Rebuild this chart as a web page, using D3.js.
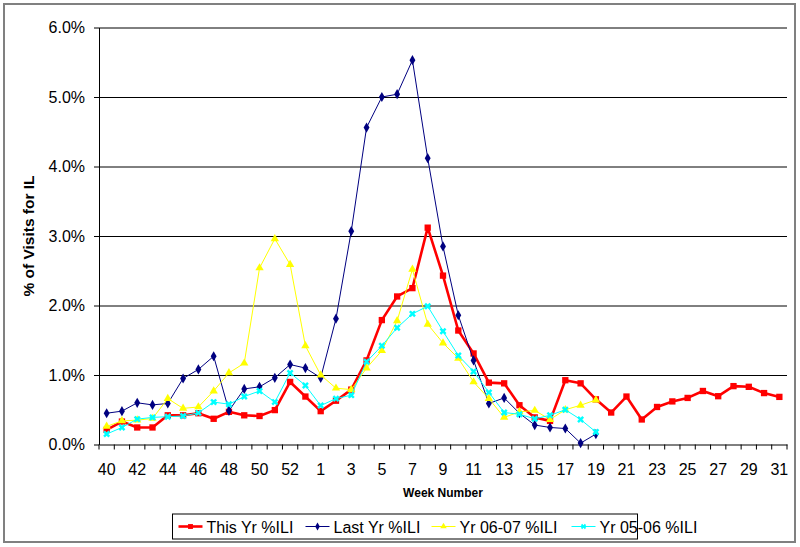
<!DOCTYPE html>
<html>
<head>
<meta charset="utf-8">
<script src="https://cdn.jsdelivr.net/npm/d3@7"></script>
<style>
  body { margin: 0; background: #fff; }
  svg { display: block; font-family: "Liberation Sans", Arial, sans-serif; }
</style>
</head>
<body>
<div id="chart"></div>
<script>
// week categories, flu season runs from week 40 through week 31 of next year
let weeks = [40,41,42,43,44,45,46,47,48,49,50,51,52,53,
             1,2,3,4,5,6,7,8,9,10,11,12,13,14,15,16,17,18,19,20,21,22,23,24,25,26,27,28,29,30,31]

// % of visits for ILI
let thisYr = [0.21,0.33,0.245,0.245,0.42,0.42,0.45,0.37,0.47,0.42,0.41,0.495,0.90,0.69,
              0.48,0.63,0.79,1.21,1.79,2.13,2.25,3.12,2.43,1.64,1.31,0.89,0.88,0.565,0.39,0.34,
              0.925,0.88,0.65,0.46,0.69,0.36,0.54,0.62,0.67,0.77,0.695,0.84,0.83,0.74,0.685]
let lastYr = [0.45,0.48,0.60,0.57,0.59,0.95,1.08,1.27,0.485,0.80,0.83,0.96,1.15,1.10,
              0.96,1.81,3.07,4.56,5.00,5.04,5.53,4.12,2.85,1.86,1.21,0.59,0.67,0.45,0.28,0.245,
              0.23,0.02,0.15]
let yr0607 = [0.26,0.34,0.35,0.375,0.66,0.52,0.54,0.77,1.03,1.17,2.54,2.96,2.59,1.42,
              1.00,0.81,0.79,1.10,1.35,1.78,2.52,1.73,1.46,1.24,0.90,0.66,0.39,0.47,0.49,0.36,
              0.50,0.565,0.64]
let yr0506 = [0.15,0.245,0.365,0.39,0.40,0.41,0.455,0.61,0.58,0.69,0.77,0.61,1.03,0.85,
              0.56,0.66,0.71,1.19,1.42,1.68,1.88,1.99,1.63,1.28,1.05,0.75,0.46,0.435,0.37,0.42,
              0.50,0.36,0.18]

let yTicks = [0,1,2,3,4,5,6]
let seriesNames = ['This Yr %ILI', 'Last Yr %ILI', 'Yr 06-07 %ILI', 'Yr 05-06 %ILI']

let width = 800, height = 547
let margin = {top: 27.5, right: 13, bottom: 102.5, left: 99}
let innerWidth = width - margin.left - margin.right
let innerHeight = height - margin.top - margin.bottom

let svg = d3.select('#chart').append('svg')
  .attr('width', width).attr('height', height)

// chart frame
svg.append('rect')
  .attr('x', 4).attr('y', 4).attr('width', 791).attr('height', 538)
  .attr('fill', '#fff').attr('stroke', '#808080').attr('stroke-width', 2)

let g = svg.append('g').attr('transform', `translate(${margin.left},${margin.top})`)

let x = d3.scaleBand().domain(d3.range(weeks.length)).range([0, innerWidth])
let y = d3.scaleLinear().domain([0, 6]).range([innerHeight, 0])
let cx = i => x(i) + x.bandwidth() / 2

// gridlines
g.append('g')
  .call(d3.axisLeft(y).tickValues(yTicks.slice(1)).tickSize(-innerWidth).tickFormat(''))
  .call(s => s.select('.domain').remove())
  .selectAll('line').attr('stroke', '#000').attr('stroke-width', 1)

// y axis (line + ticks), labels drawn separately
let yAxis = g.append('g')
  .call(d3.axisLeft(y).tickValues(yTicks).tickSize(5).tickSizeOuter(0).tickFormat(''))
yAxis.select('.domain').attr('stroke', '#000')
g.append('g').selectAll('text').data(yTicks).join('text')
  .attr('x', -14).attr('y', d => y(d)).attr('dy', '0.35em')
  .attr('text-anchor', 'end').attr('font-size', 16).attr('fill', '#000')
  .text(d => d.toFixed(1) + '%')

// x axis: ticks between categories, labels on every other week
let xAxis = g.append('g').attr('transform', `translate(0,${innerHeight})`)
  .call(d3.axisBottom(x).tickValues([]).tickSizeOuter(0))
xAxis.select('.domain').attr('stroke', '#000')
xAxis.selectAll('.bnd').data(d3.range(weeks.length + 1)).join('line')
  .attr('class', 'bnd')
  .attr('x1', i => i * x.step()).attr('x2', i => i * x.step())
  .attr('y1', 0).attr('y2', 5).attr('stroke', '#000')
g.append('g').selectAll('text').data(d3.range(0, weeks.length, 2)).join('text')
  .attr('x', i => cx(i)).attr('y', innerHeight + 30)
  .attr('text-anchor', 'middle').attr('font-size', 16).attr('fill', '#000')
  .text(i => weeks[i])

// axis titles
svg.append('text')
  .attr('x', margin.left + innerWidth / 2).attr('y', 497)
  .attr('text-anchor', 'middle').attr('font-size', 12).attr('font-weight', 'bold')
  .text('Week Number')
svg.append('text')
  .attr('transform', `translate(34,${margin.top + innerHeight / 2}) rotate(-90)`)
  .attr('text-anchor', 'middle').attr('font-size', 15.5).attr('font-weight', 'bold')
  .text('% of Visits for IL')

// series
let series = [
  {name: seriesNames[0], values: thisYr, color: '#ff0000', width: 2.6, symbol: d3.symbolSquare, size: 40, rot: 0},
  {name: seriesNames[1], values: lastYr, color: '#000080', width: 1, symbol: d3.symbolDiamond, size: 30, rot: 0},
  {name: seriesNames[2], values: yr0607, color: '#ffff00', width: 1, symbol: d3.symbolTriangle, size: 30, rot: 0},
  {name: seriesNames[3], values: yr0506, color: '#00ffff', width: 1, symbol: d3.symbolCross, size: 30, rot: 45}
]

let line = d3.line().x((d, i) => cx(i)).y(d => y(d))

series.forEach(s => {
  g.append('path').datum(s.values)
    .attr('fill', 'none').attr('stroke', s.color).attr('stroke-width', s.width)
    .attr('stroke-linejoin', 'round').attr('d', line)
  g.append('g').selectAll('path').data(s.values).join('path')
    .attr('d', d3.symbol().type(s.symbol).size(s.size))
    .attr('transform', (d, i) => `translate(${cx(i)},${y(d)}) rotate(${s.rot})`)
    .attr('fill', s.color)
})

// legend
let legend = svg.append('g').attr('transform', 'translate(172.5,514)')
legend.append('rect').attr('width', 465).attr('height', 25)
  .attr('fill', '#fff').attr('stroke', '#000').attr('stroke-width', 1)
let legendX = [6, 133, 259, 399]
series.forEach((s, k) => {
  let it = legend.append('g').attr('transform', `translate(${legendX[k]},12.5)`)
  it.append('line').attr('x1', 0).attr('x2', 24).attr('stroke', s.color).attr('stroke-width', s.width)
  it.append('path').attr('d', d3.symbol().type(s.symbol).size(s.size * 0.6))
    .attr('transform', `translate(12,0) rotate(${s.rot})`).attr('fill', s.color)
  it.append('text').attr('x', 28).attr('y', 6).attr('font-size', 16).attr('fill', '#000').text(s.name)
})
</script>
</body>
</html>
